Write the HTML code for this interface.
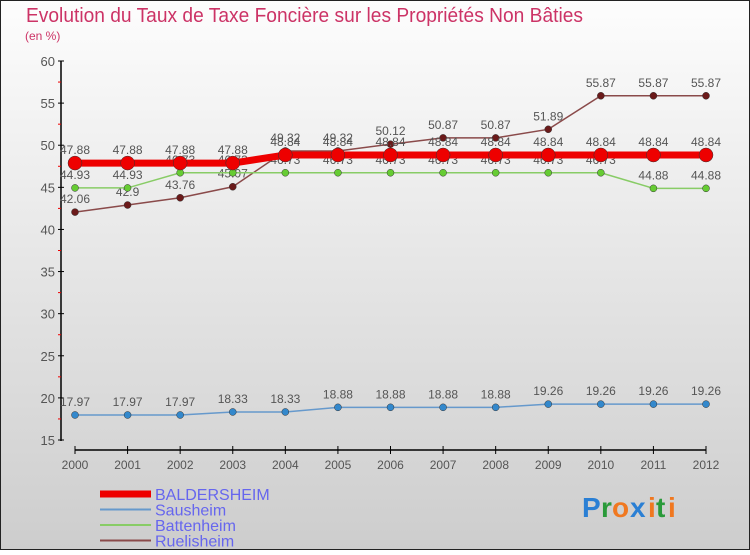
<!DOCTYPE html>
<html><head><meta charset="utf-8"><style>
body{margin:0;}
#wrap{position:relative;width:750px;height:550px;}
text{font-family:"Liberation Sans",sans-serif;}
</style></head><body>
<div id="wrap">
<svg id="svg" width="750" height="550" xmlns="http://www.w3.org/2000/svg">
<defs><linearGradient id="bg" x1="0" y1="0" x2="0" y2="1"><stop offset="0" stop-color="#fdfdfd"/><stop offset="1" stop-color="#cdcdcd"/></linearGradient></defs>
<rect x="0.5" y="0.5" width="749" height="549" fill="url(#bg)" stroke="#222"/>
<text x="26" y="22" font-size="20" fill="#cc3366" textLength="557" lengthAdjust="spacingAndGlyphs">Evolution du Taux de Taxe Foncière sur les Propriétés Non Bâties</text>
<text x="25" y="40" font-size="12" fill="#cc3366">(en %)</text>
<g id="axes"></g><g id="series"></g><g id="legend"></g>
<g font-size="28" font-weight="bold">
<text x="582" y="517" fill="#2a7fd4">P</text><text x="601" y="517" fill="#2a9a3a">r</text><text x="612" y="517" fill="#f07820">o</text><text x="630" y="517" fill="#2a7fd4">x</text><text x="648" y="517" fill="#f07820">i</text><text x="656" y="517" fill="#2a9a3a">t</text><text x="668" y="517" fill="#f07820">i</text>
</g>
</svg></div>
<script>
const years=[2000,2001,2002,2003,2004,2005,2006,2007,2008,2009,2010,2011,2012];
const baldersheim=[47.88,47.88,47.88,47.88,48.84,48.84,48.84,48.84,48.84,48.84,48.84,48.84,48.84];
const sausheim=[17.97,17.97,17.97,18.33,18.33,18.88,18.88,18.88,18.88,19.26,19.26,19.26,19.26];
const battenheim=[44.93,44.93,46.73,46.73,46.73,46.73,46.73,46.73,46.73,46.73,46.73,44.88,44.88];
const ruelisheim=[42.06,42.9,43.76,45.07,49.32,49.32,50.12,50.87,50.87,51.89,55.87,55.87,55.87];
const yTicks=[15,20,25,30,35,40,45,50,55,60];
const NS="http://www.w3.org/2000/svg";
const X=i=>75+i*(706-75)/(years.length-1);
const Y=v=>440-(v-15)*(440-61)/45;
function mk(tag,attrs,parent){const e=document.createElementNS(NS,tag);for(const k in attrs)e.setAttribute(k,attrs[k]);parent.appendChild(e);return e;}
const ax=document.getElementById('axes');
let l=mk('line',{x1:61,y1:61,x2:61,y2:441,stroke:'#000','stroke-width':1.5},ax);


yTicks.forEach(v=>{
 mk('line',{x1:58,x2:64,y1:Y(v),y2:Y(v),stroke:'#000'},ax);
 const t=mk('text',{x:55,y:Y(v)+5,'font-size':13,fill:'#555','text-anchor':'end'},ax);t.textContent=v;
 
 
 if(v<60)mk('line',{x1:58,x2:61,y1:Y(v+2.5),y2:Y(v+2.5),stroke:'#e00'},ax);
});
l=mk('line',{x1:75,y1:450,x2:706,y2:450,stroke:'#000','stroke-width':1.5},ax);


years.forEach((y,i)=>{
 mk('line',{x1:X(i),x2:X(i),y1:446,y2:454,stroke:'#000'},ax);
 const t=mk('text',{x:X(i),y:469,'font-size':12,fill:'#555','text-anchor':'middle'},ax);t.textContent=y;
 
 
});
const sg=document.getElementById('series');
const series=[
 {name:'ruelisheim',data:ruelisheim,line:'#8a4a4a',dot:'#6b1a1a',w:1.5,r:3.5},
 {name:'battenheim',data:battenheim,line:'#88cc66',dot:'#66cc33',w:1.5,r:3.5},
 {name:'sausheim',data:sausheim,line:'#6699cc',dot:'#3388cc',w:1.5,r:3.5},
 {name:'baldersheim',data:baldersheim,line:'#ee0000',dot:'#ee0000',w:7,r:7},
];
series.forEach(s=>{
 const g=mk('g',{},sg);
 
 
 let d='';
 s.data.forEach((v,i)=>{d+=(i?'L':'M')+X(i)+','+Y(v);});
 mk('path',{d:d,fill:'none',stroke:s.line,'stroke-width':s.w},g);
 s.data.forEach((v,i)=>{
  const c=mk('circle',{cx:X(i),cy:Y(v),r:s.r,fill:s.dot,stroke:'#333','stroke-width':0.5},g);
  
  
  const t=mk('text',{x:X(i),y:Y(v)-9,'font-size':12,fill:'#555','text-anchor':'middle'},g);t.textContent=v;
  
  
 });
});
const lg=document.getElementById('legend');
[['BALDERSHEIM','#ee0000',7],['Sausheim','#6699cc',2],['Battenheim','#88cc66',2],['Ruelisheim','#8a4a4a',2]].forEach((e,i)=>{
 const y=494+i*15.5;
 const g=mk('g',{},lg);
 
 
 mk('line',{x1:100,x2:151,y1:y,y2:y,stroke:e[1],'stroke-width':e[2]},g);
 const t=mk('text',{x:155,y:y+6,'font-size':16,fill:'#6666ee'},g);t.textContent=e[0];
});
</script>
</body></html>
